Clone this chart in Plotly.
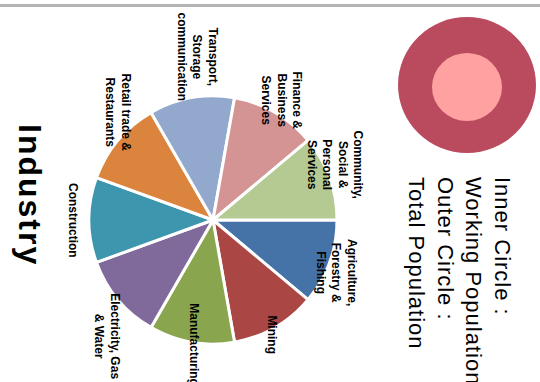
import math
import plotly.graph_objects as go

# Employment by industry (equal-share sectors)
INDUSTRIES = [
    "Agriculture,<br>Forestry &<br>Fishing",
    "Mining",
    "Manufacturing",
    "Electricity, Gas<br>& Water",
    "Construction",
    "Retail trade &<br>Restaurants",
    "Transport,<br>Storage<br>communication",
    "Finance &<br>Business<br>Services",
    "Community,<br>Social &<br>Personal<br>Services",
]
VALUES = [1, 1, 1, 1, 1, 1, 1, 1, 1]
COLORS = ["#4572A7", "#AA4643", "#89A54E", "#80699B", "#3D96AE",
          "#DB843D", "#92A8CD", "#D49494", "#B5CA92"]

TITLE = "Industry"
NOTE_LINES = ["Inner Circle :", "Working Population", "Outer Circle :", "Total Population"]

W, H = 540, 382
FONT = "Liberation Sans, Arial, Helvetica, sans-serif"

# pie geometry in pixels
CX, CY, R = 213, 220, 124
START = 90  # first slice begins at 3 o'clock, runs clockwise

# label placement: distance from centre (px) and angular nudge (deg)
LABEL_DIST = [134, 129, 126, 158, 140, 144, 164, 138, 134]
LABEL_NUDGE = [3, 3, -1.5, -7.5, 0, 8.5, 4.5, 0, -4.5]


def px(x):
    return x / W


def py(y):
    return 1 - y / H


def spaced(text, spacing):
    """Wrap every line of a text in a span with extra letter spacing."""
    return "<br>".join(
        '<span style="letter-spacing:%spx">%s</span>' % (spacing, line)
        for line in text.split("<br>")
    )


fig = go.Figure()
fig.add_trace(go.Pie(
    labels=[t.replace("<br>", " ") for t in INDUSTRIES],
    values=VALUES,
    sort=False,
    direction="clockwise",
    rotation=START,
    marker=dict(colors=COLORS, line=dict(color="white", width=3)),
    textinfo="none",
    hoverinfo="label",
    showlegend=False,
    domain=dict(x=[px(CX - R), px(CX + R)], y=[py(CY + R), py(CY - R)]),
))

annotations = []
total = sum(VALUES)
cum = 0
for name, v, dist, nudge in zip(INDUSTRIES, VALUES, LABEL_DIST, LABEL_NUDGE):
    mid = (cum + v / 2) / total * 360 + nudge  # screen angle, clockwise from 3 o'clock
    cum += v
    a = math.radians(mid)
    annotations.append(dict(
        x=px(CX + dist * math.cos(a)), y=py(CY + dist * math.sin(a)),
        xref="paper", yref="paper", xanchor="center", yanchor="middle",
        text=name, showarrow=False, textangle=90, align="center",
        font=dict(family=FONT, size=12, color="#000000", weight="bold"),
    ))

annotations.append(dict(
    x=px(30), y=py(195), xref="paper", yref="paper",
    xanchor="center", yanchor="middle", showarrow=False, textangle=90,
    text=spaced(TITLE, 2),
    font=dict(family=FONT, size=32, color="#000000", weight="bold"),
))

annotations.append(dict(
    x=px(460), y=py(175), xref="paper", yref="paper",
    xanchor="center", yanchor="top", showarrow=False, textangle=90, align="left",
    text=spaced("<br>".join(NOTE_LINES), 1),
    font=dict(family=FONT, size=22, color="#000000"),
))

shapes = [
    # thin rule across the top
    dict(type="line", xref="paper", yref="paper", x0=0, x1=1, y0=py(5.5), y1=py(5.5),
         line=dict(color="#b4b4b4", width=3)),
    # key symbol: outer and inner circles
    dict(type="circle", xref="paper", yref="paper",
         x0=px(467 - 69), x1=px(467 + 69), y0=py(85 + 68), y1=py(85 - 68),
         fillcolor="#BA4A5E", line=dict(width=0)),
    dict(type="circle", xref="paper", yref="paper",
         x0=px(467 - 35), x1=px(467 + 35), y0=py(87 + 34), y1=py(87 - 34),
         fillcolor="#FFA1A1", line=dict(width=0)),
]

fig.update_layout(
    width=W, height=H,
    margin=dict(l=0, r=0, t=0, b=0),
    paper_bgcolor="white",
    plot_bgcolor="white",
    annotations=annotations,
    shapes=shapes,
)

fig.write_html("out.html")
